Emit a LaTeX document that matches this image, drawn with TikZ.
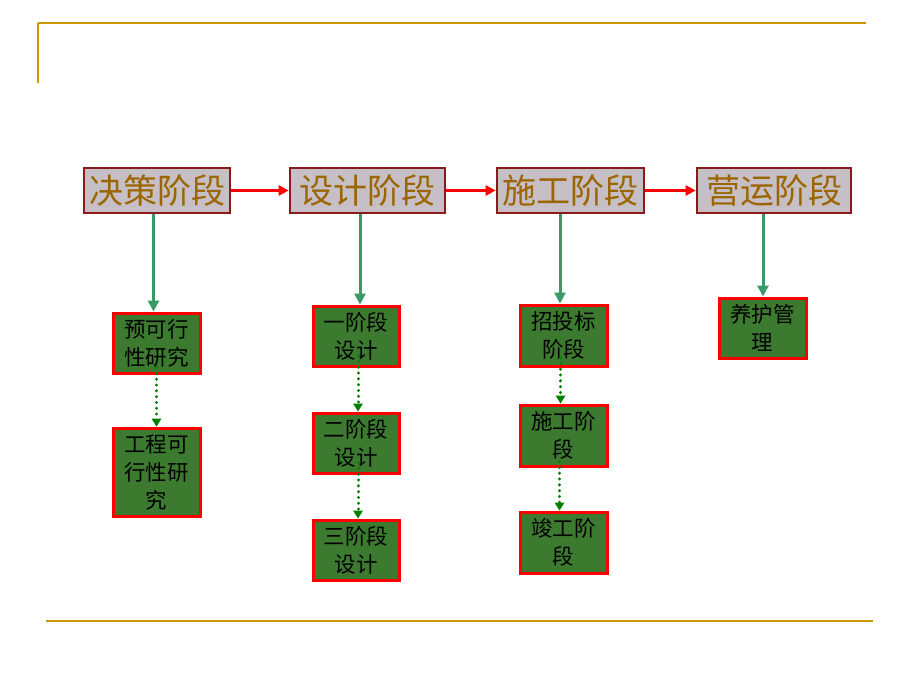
\documentclass[tikz,border=0pt]{standalone}
\usepackage{fontspec}
\setmainfont{Noto Sans CJK SC}
\usetikzlibrary{arrows.meta}
\definecolor{gold}{HTML}{CC9900}
\definecolor{greyfill}{HTML}{C6C0C6}
\definecolor{darkred}{HTML}{8B1A1A}
\definecolor{goldtext}{HTML}{9C6500}
\definecolor{boxgreen}{HTML}{3C7A30}
\definecolor{teal}{HTML}{3A9A66}
\definecolor{dotgreen}{HTML}{008000}
\begin{document}
\begin{tikzpicture}[x=1pt,y=-1pt,
  stagebox/.style={draw=darkred,line width=2.6pt,fill=greyfill,text=goldtext,
    font=\fontsize{34}{36}\selectfont,inner sep=0pt,minimum height=45pt,anchor=center},
  subbox/.style={draw=red,line width=3pt,fill=boxgreen,text=black,
    font=\fontsize{21.5}{28}\selectfont,inner sep=0pt,align=center,minimum width=87pt,anchor=center},
  redarrow/.style={draw=red,line width=2.4pt,-{Triangle[length=10pt,width=10pt]}},
  greenarrow/.style={draw=teal,line width=3pt,-{Triangle[length=11pt,width=11pt]}},
  dotarrow/.style={draw=dotgreen,line width=3pt,line cap=round,dash pattern=on 0.3pt off 5.5pt,
    -{Triangle[length=8pt,width=10pt,line width=0pt,round=false]}}
]
\useasboundingbox (0,0) rectangle (920,690);
% frame lines
\coordinate (tl) at (38,23); \coordinate (tr) at (866,23); \coordinate (lb) at (38,83);
\draw[gold,line width=2pt] (tl) -- (tr);
\draw[gold,line width=1.2pt] (tl) -- (lb);
\coordinate (bl) at (46,621); \coordinate (br) at (873,621);
\draw[gold,line width=2pt] (bl) -- (br);
% stage boxes
\node[stagebox,minimum width=146pt] (s1) at (157,190.5) {决策阶段};
\node[stagebox,minimum width=155pt] (s2) at (367.5,190.5) {设计阶段};
\node[stagebox,minimum width=147pt] (s3) at (570.5,190.5) {施工阶段};
\node[stagebox,minimum width=154pt] (s4) at (774,190.5) {营运阶段};
\draw[redarrow] (s1.east) -- (s2.west);
\draw[redarrow] (s2.east) -- (s3.west);
\draw[redarrow] (s3.east) -- (s4.west);
% column 1
\node[subbox,minimum height=60pt] (a1) at (156.5,343) {预可行\\性研究};
\node[subbox,minimum height=88pt] (a2) at (156.5,472) {工程可\\行性研\\究};
% column 2
\node[subbox,minimum width=86pt,minimum height=60pt] (b1) at (356,336) {一阶段\\设计};
\node[subbox,minimum width=86pt,minimum height=60pt] (b2) at (356,443) {二阶段\\设计};
\node[subbox,minimum width=86pt,minimum height=60pt] (b3) at (356,550) {三阶段\\设计};
% column 3
\node[subbox,minimum height=61pt] (c1) at (563.5,335.5) {招投标\\阶段};
\node[subbox,minimum height=61pt] (c2) at (563.5,435.5) {施工阶\\段};
\node[subbox,minimum height=61pt] (c3) at (563.5,542.5) {竣工阶\\段};
% column 4
\node[subbox,minimum height=60pt] (d1) at (762.5,328) {养护管\\理};
% green arrows
\draw[greenarrow] ([xshift=-3.5pt]s1.south) -- ([xshift=-3pt]a1.north);
\draw[greenarrow] ([xshift=-7.5pt]s2.south) -- ([xshift=4pt]b1.north);
\draw[greenarrow] ([xshift=-10.5pt]s3.south) -- ([xshift=-3.5pt]c1.north);
\draw[greenarrow] ([xshift=-11pt]s4.south) -- ([xshift=0.5pt]d1.north);
% dotted arrows
\draw[dotarrow] ([yshift=7pt]a1.south) -- (a2.north);
\draw[dotarrow] ([xshift=2pt,yshift=12pt]b1.south) -- ([xshift=2pt]b2.north);
\draw[dotarrow] ([xshift=2pt,yshift=12pt]b2.south) -- ([xshift=2pt]b3.north);
\draw[dotarrow] ([xshift=-3pt,yshift=10pt]c1.south) -- ([xshift=-3pt]c2.north);
\draw[dotarrow] ([xshift=-4pt,yshift=6pt]c2.south) -- ([xshift=-4pt]c3.north);
\end{tikzpicture}
\end{document}
